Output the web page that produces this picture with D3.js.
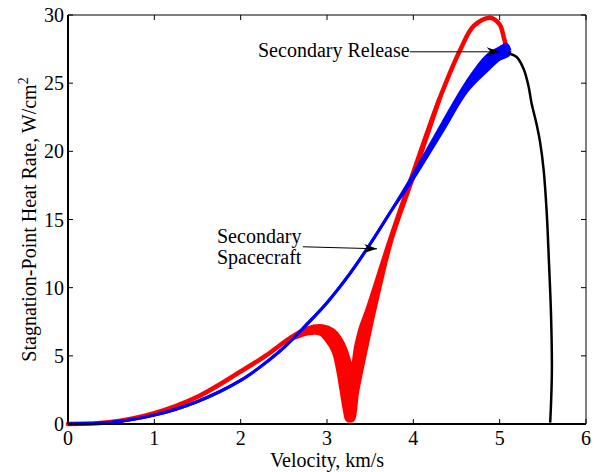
<!DOCTYPE html>
<html>
<head>
<meta charset="utf-8">
<script src="https://cdn.jsdelivr.net/npm/d3@7"></script>
<style>
  html, body { margin: 0; padding: 0; background: #fff; }
  text { font-family: "Liberation Serif", "Times New Roman", serif; fill: #000; }
</style>
</head>
<body>
<svg id="chart" width="596" height="472"></svg>
<script>
// ---- data ----
const xTicks = [0, 1, 2, 3, 4, 5, 6];
const yTicks = [0, 5, 10, 15, 20, 25, 30];

// red trajectory: upper/left edge and lower/right edge of the plotted band
const redUpperV = [0, 0.5, 1.0, 1.5, 2.0, 2.3, 2.57, 2.77, 2.95, 3.07, 3.15, 3.21, 3.25, 3.29, 3.34, 3.39, 3.47, 3.73, 3.98, 4.3, 4.54, 4.7, 4.89, 5.0, 5.05, 5.09];
const redUpperQ = [0, 0.15, 0.8, 2.0, 3.85, 5.05, 6.3, 7.0, 7.15, 6.85, 6.25, 5.5, 4.7, 4.0, 5.7, 7.0, 8.4, 13.5, 18.1, 23.8, 27.4, 29.2, 29.8, 29.3, 28.3, 27.3];
const redLowerV = [2.57, 2.77, 2.92, 3.0, 3.08, 3.13, 3.17, 3.21, 3.235, 3.27, 3.30, 3.345, 3.395, 3.475, 3.555, 3.745, 3.995, 4.3];
const redLowerQ = [6.2, 6.65, 6.65, 6.15, 5.3, 4.0, 2.5, 1.0, 0.35, 0.25, 0.35, 2.3, 3.9, 6.3, 8.6, 13.5, 18.1, 23.8];

// blue (secondary spacecraft): single line, then a band near release
const blueV = [0, 0.5, 1.0, 1.5, 2.0, 2.25, 2.5, 2.75, 3.0, 3.25, 3.5, 3.75];
const blueQ = [0, 0.12, 0.65, 1.65, 3.2, 4.3, 5.6, 7.2, 8.9, 10.9, 13.2, 15.7];
const blueUpperV = [4.0, 4.34, 4.62, 4.85, 5.0, 5.08, 5.12];
const blueUpperQ = [18.3, 22.1, 25.1, 27.0, 27.6, 27.85, 27.4];
const blueLowerV = [4.0, 4.34, 4.62, 4.85, 5.0, 5.1, 5.12];
const blueLowerQ = [18.0, 21.5, 24.4, 25.9, 26.75, 27.05, 27.4];

// black (after secondary release)
const blackV = [5.10, 5.20, 5.28, 5.335, 5.37, 5.42, 5.47, 5.51, 5.545, 5.57, 5.595, 5.605, 5.595, 5.585];
const blackQ = [27.2, 26.9, 26.0, 24.75, 23.5, 22.2, 20.6, 18.6, 15.5, 12.0, 8.0, 4.0, 1.5, 0.1];

// ---- layout ----
const svg = d3.select("#chart");
const L = 68, R = 586, T = 15, B = 424;
const x = d3.scaleLinear().domain([0, 6]).range([L, R]);
const y = d3.scaleLinear().domain([0, 30]).range([B, T]);

const zip = (vs, qs) => vs.map((v, i) => [v, qs[i]]);
const line = d3.line().x(d => x(d[0])).y(d => y(d[1])).curve(d3.curveCatmullRom.alpha(0.5));
const poly = d3.line().x(d => x(d[0])).y(d => y(d[1])).curve(d3.curveLinearClosed);

const g = svg.append("g");

// red
const redUp = zip(redUpperV, redUpperQ);
const redLo = zip(redLowerV, redLowerQ);
const redFill = redUp.filter(d => d[0] >= 2.57 && d[0] <= 4.3).concat(redLo.slice().reverse());
g.append("path").attr("d", poly(redFill)).attr("fill", "#ff0000").attr("stroke", "none");
g.append("path").attr("d", line(redUp)).attr("fill", "none").attr("stroke", "#ff0000").attr("stroke-width", 4.5).attr("stroke-linejoin", "round").attr("stroke-linecap", "round");
g.append("path").attr("d", line(redLo)).attr("fill", "none").attr("stroke", "#ff0000").attr("stroke-width", 4.5).attr("stroke-linejoin", "round").attr("stroke-linecap", "round");

// blue
const blueMain = zip(blueV, blueQ);
const blueUp = blueMain.concat(zip(blueUpperV, blueUpperQ));
const blueLo = blueMain.concat(zip(blueLowerV, blueLowerQ));
const blueFill = zip(blueUpperV, blueUpperQ).concat(zip(blueLowerV, blueLowerQ).reverse());
g.append("path").attr("d", poly(blueFill)).attr("fill", "#0000ff").attr("stroke", "none");
g.append("path").attr("d", line(blueUp)).attr("fill", "none").attr("stroke", "#0000ff").attr("stroke-width", 3).attr("stroke-linejoin", "round");
g.append("path").attr("d", line(blueLo)).attr("fill", "none").attr("stroke", "#0000ff").attr("stroke-width", 3).attr("stroke-linejoin", "round");

// black
g.append("path").attr("d", line(zip(blackV, blackQ))).attr("fill", "none").attr("stroke", "#000").attr("stroke-width", 2.5).attr("stroke-linejoin", "round");

// ---- axes box ----
const ax = svg.append("g");
ax.append("line").attr("x1", L).attr("x2", R).attr("y1", T).attr("y2", T).attr("stroke", "#000").attr("stroke-width", 1);
ax.append("line").attr("x1", R).attr("x2", R).attr("y1", T).attr("y2", B).attr("stroke", "#000").attr("stroke-width", 1);
ax.append("line").attr("x1", L).attr("x2", R).attr("y1", B).attr("y2", B).attr("stroke", "#000").attr("stroke-width", 2);
ax.append("line").attr("x1", L).attr("x2", L).attr("y1", T).attr("y2", B).attr("stroke", "#000").attr("stroke-width", 2);

const tl = 5;
xTicks.forEach(t => {
  ax.append("line").attr("x1", x(t)).attr("x2", x(t)).attr("y1", B).attr("y2", B - tl).attr("stroke", "#000");
  ax.append("line").attr("x1", x(t)).attr("x2", x(t)).attr("y1", T).attr("y2", T + tl).attr("stroke", "#000");
  ax.append("text").attr("x", x(t)).attr("y", 445).attr("text-anchor", "middle").attr("font-size", 20).text(t);
});
yTicks.forEach(t => {
  ax.append("line").attr("x1", L).attr("x2", L + tl).attr("y1", y(t)).attr("y2", y(t)).attr("stroke", "#000");
  ax.append("line").attr("x1", R).attr("x2", R - tl).attr("y1", y(t)).attr("y2", y(t)).attr("stroke", "#000");
  ax.append("text").attr("x", 64).attr("y", y(t) + 7).attr("text-anchor", "end").attr("font-size", 20).text(t);
});

// axis labels
ax.append("text").attr("x", (L + R) / 2).attr("y", 467).attr("text-anchor", "middle").attr("font-size", 20).text("Velocity, km/s");
const yl = ax.append("text").attr("transform", `translate(36,${(T + B) / 2}) rotate(-90)`).attr("text-anchor", "middle").attr("font-size", 20);
yl.append("tspan").text("Stagnation-Point Heat Rate,  W/cm");
yl.append("tspan").attr("font-size", 14).attr("dy", -8).text("2");

// ---- annotations ----
const ann = svg.append("g");
function arrow(x1, y1, x2, y2) {
  ann.append("line").attr("x1", x1).attr("y1", y1).attr("x2", x2).attr("y2", y2).attr("stroke", "#000").attr("stroke-width", 1);
  const a = Math.atan2(y2 - y1, x2 - x1);
  const len = 13, w = 4.5, back = 9;
  const p = (d, s) => [x2 - d * Math.cos(a) - s * Math.sin(a), y2 - d * Math.sin(a) + s * Math.cos(a)];
  const pts = [[x2, y2], p(len, w), p(back, 0), p(len, -w)];
  ann.append("path").attr("d", "M" + pts.map(q => q.join(",")).join("L") + "Z").attr("fill", "#000");
}
ann.append("text").attr("x", 258).attr("y", 57).attr("font-size", 20).text("Secondary Release");
arrow(x(3.96), y(27.3), x(5.0), y(27.3));
ann.append("text").attr("x", 217).attr("y", 243).attr("font-size", 20).text("Secondary");
ann.append("text").attr("x", 217).attr("y", 264).attr("font-size", 20).text("Spacecraft");
arrow(x(2.72), y(13.0), x(3.58), y(12.85));
</script>
</body>
</html>
